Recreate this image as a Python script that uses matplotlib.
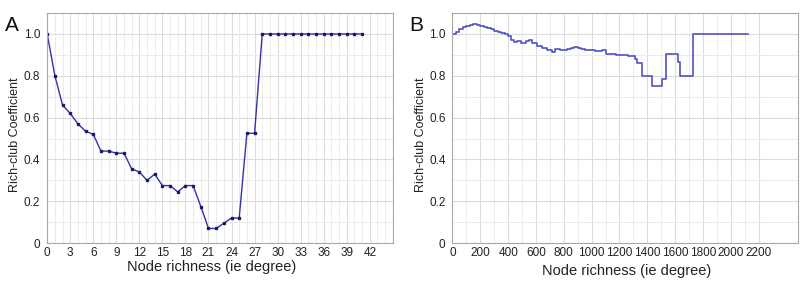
import matplotlib
matplotlib.use("Agg")
import matplotlib.pyplot as plt
from matplotlib.ticker import FixedLocator, FuncFormatter

plt.rcParams["font.family"] = ["Liberation Sans", "DejaVu Sans"]

# ── Panel A data: rich-club coefficient vs degree ─────────────────────────────
a_degree = list(range(0, 42))
a_coef = [1.00, 0.80, 0.66, 0.62, 0.57, 0.535, 0.52, 0.44, 0.44, 0.43,
          0.43, 0.355, 0.34, 0.30, 0.33, 0.275, 0.275, 0.245, 0.275, 0.275,
          0.175, 0.07, 0.07, 0.095, 0.12, 0.12, 0.525, 0.525, 1.00, 1.00,
          1.00, 1.00, 1.00, 1.00, 1.00, 1.00, 1.00, 1.00, 1.00, 1.00,
          1.00, 1.00]

# ── Panel B data ──────────────────────────────────────────────────────────────
b_degree = [0, 25, 50, 75, 100, 125, 150, 175, 200, 225, 250, 275, 300, 325,
            350, 375, 400, 420, 440, 465, 490, 525, 550, 575, 610, 645, 680,
            715, 740, 775, 800, 825, 850, 875, 900, 925, 950, 975, 1000,
            1025, 1050, 1075, 1100, 1125, 1150, 1175, 1200, 1225, 1260, 1310,
            1325, 1365, 1432, 1509, 1532, 1621, 1636, 1726, 2122]
b_coef = [1.000, 1.010, 1.022, 1.033, 1.040, 1.045, 1.046, 1.044, 1.040,
          1.034, 1.030, 1.022, 1.012, 1.008, 1.006, 1.000, 0.990, 0.969,
          0.960, 0.965, 0.957, 0.965, 0.969, 0.957, 0.944, 0.933, 0.922,
          0.912, 0.928, 0.925, 0.922, 0.928, 0.932, 0.938, 0.932, 0.928,
          0.925, 0.922, 0.925, 0.920, 0.918, 0.922, 0.905, 0.902, 0.902,
          0.900, 0.900, 0.898, 0.893, 0.882, 0.862, 0.800, 0.750, 0.786,
          0.905, 0.868, 0.800, 1.000, 1.000]

a_xticks = list(range(0, 43, 3))
b_xticks = list(range(0, 2201, 200))
y_ticks = [0, 0.2, 0.4, 0.6, 0.8, 1.0]

fig = plt.figure(figsize=(8.0, 2.84), dpi=100)
axA = fig.add_axes([0.059, 0.144, 0.432, 0.81])
axB = fig.add_axes([0.5656, 0.144, 0.4313, 0.81])


def style(ax, xticks, xminor, xmax):
    ax.set_xlim(0, xmax)
    ax.set_ylim(0, 1.1)
    ax.xaxis.set_major_locator(FixedLocator(xticks))
    ax.xaxis.set_minor_locator(FixedLocator(xminor))
    ax.yaxis.set_major_locator(FixedLocator(y_ticks))
    ax.yaxis.set_minor_locator(FixedLocator([0.1, 0.3, 0.5, 0.7, 0.9, 1.1]))
    ax.yaxis.set_major_formatter(FuncFormatter(lambda v, p: "0" if v == 0 else f"{v:.1f}"))
    ax.grid(which="major", color="#dcdcdc", lw=0.8)
    ax.grid(which="minor", color="#ebebeb", lw=0.7)
    ax.set_axisbelow(True)
    ax.tick_params(which="both", length=0, labelsize=8.5, colors="#222222")
    ax.tick_params(axis="x", pad=3)
    ax.tick_params(axis="y", pad=5)
    for s in ax.spines.values():
        s.set_color("#a8a8a8")
        s.set_linewidth(0.8)
    ax.set_ylabel("Rich-club Coefficient", fontsize=9, color="#222222")
    ax.set_xlabel("Node richness (ie degree)", fontsize=10.5, color="#222222")


style(axA, a_xticks, list(range(1, 45)), 45)
style(axB, b_xticks, list(range(100, 2200, 200)), 2480)

axA.plot(a_degree, a_coef, color="#3333a8", lw=1.0, marker="s", ms=1.5,
         mfc="#1c1c66", mec="#1c1c66")
axB.plot(b_degree, b_coef, color="#5252c4", lw=1.2, drawstyle="steps-post")

axA.yaxis.set_label_coords(-0.075, 0.47)
axB.yaxis.set_label_coords(-0.075, 0.47)
axA.xaxis.set_label_coords(0.476, -0.075)
axB.xaxis.set_label_coords(0.505, -0.093)

fig.text(0.006, 0.89, "A", fontsize=15, color="#111111")
fig.text(0.512, 0.89, "B", fontsize=15, color="#111111")

fig.savefig("out.png", dpi=100)
